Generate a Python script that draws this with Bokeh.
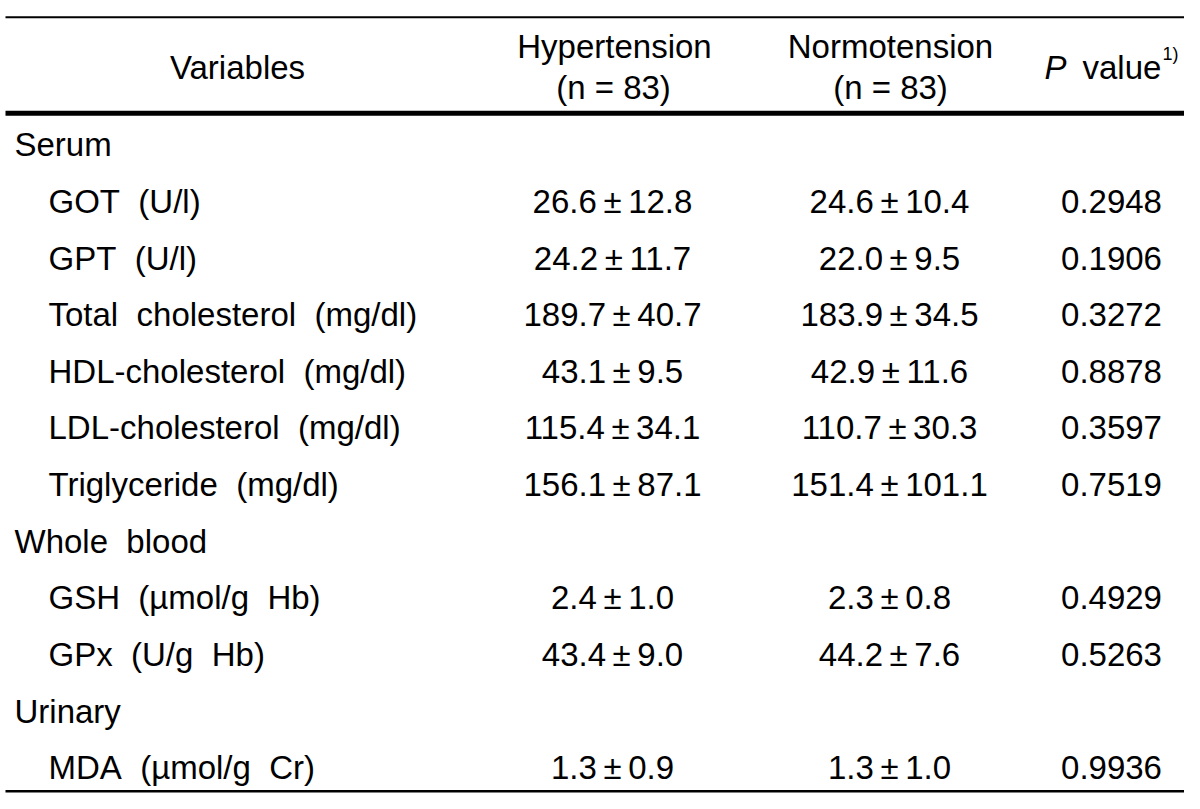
from bokeh.plotting import figure
from bokeh.models import Range1d, ColumnDataSource
from bokeh.core.properties import value
from bokeh.embed import file_html
from bokeh.resources import INLINE

# ---- data ----
labels = ["Serum", "GOT  (U/l)", "GPT  (U/l)", "Total  cholesterol  (mg/dl)",
          "HDL-cholesterol  (mg/dl)", "LDL-cholesterol  (mg/dl)", "Triglyceride  (mg/dl)",
          "Whole  blood", "GSH  (\u00b5mol/g  Hb)", "GPx  (U/g  Hb)",
          "Urinary", "MDA  (\u00b5mol/g  Cr)"]
is_group = [True, False, False, False, False, False, False, True, False, False, True, False]
hyper = ["", "26.6 \u00b1 12.8", "24.2 \u00b1 11.7", "189.7 \u00b1 40.7", "43.1 \u00b1 9.5",
         "115.4 \u00b1 34.1", "156.1 \u00b1 87.1", "", "2.4 \u00b1 1.0", "43.4 \u00b1 9.0", "",
         "1.3 \u00b1 0.9"]
normo = ["", "24.6 \u00b1 10.4", "22.0 \u00b1 9.5", "183.9 \u00b1 34.5", "42.9 \u00b1 11.6",
         "110.7 \u00b1 30.3", "151.4 \u00b1 101.1", "", "2.3 \u00b1 0.8", "44.2 \u00b1 7.6", "",
         "1.3 \u00b1 1.0"]
pvals = ["", "0.2948", "0.1906", "0.3272", "0.8878", "0.3597", "0.7519", "", "0.4929",
         "0.5263", "", "0.9936"]
headers = ["Variables", "Hypertension", "(n = 83)", "Normotension", "(n = 83)"]

def disp(s):
    # keep the wide word gaps and tight gaps around the plus-minus sign when drawn
    return s.replace("  ", "\u00a0\u00a0").replace(" \u00b1 ", "\u2009\u00b1\u2009")

W, H = 1184, 793
FONT = value("Liberation Sans")
FS = "33px"

p = figure(width=W, height=H, output_backend="svg", toolbar_location=None,
           x_range=Range1d(0, W), y_range=Range1d(803.9, -5.1), min_border=0)
p.axis.visible = False
p.grid.visible = False
p.outline_line_color = None
p.background_fill_color = "white"
p.border_fill_color = "white"

# rules
p.segment(x0=[5], y0=[12], x1=[1195], y1=[12], line_color="black", line_width=2)
p.segment(x0=[5], y0=[110], x1=[1195], y1=[110], line_color="black", line_width=5)
p.segment(x0=[5], y0=[801.5], x1=[1195], y1=[801.5], line_color="black", line_width=2.5)

# header
hx = [237, 614, 613, 890, 890]
hy = [63, 42, 84, 42, 84]
p.text(x=hx, y=hy, text=headers, text_font=FONT, text_font_size=FS,
       text_align="center", text_baseline="middle", text_color="black")
p.text(x=[1044], y=[63], text=["P"], text_font=FONT, text_font_size=FS,
       text_font_style="italic", text_align="left", text_baseline="middle")
p.text(x=[1082], y=[63], text=["value"], text_font=FONT, text_font_size=FS,
       text_align="left", text_baseline="middle")
p.text(x=[1162], y=[49], text=["1)"], text_font=FONT, text_font_size="18px",
       text_align="left", text_baseline="middle")

# body
row_y0, row_dy = 142, 57.8
ys = [row_y0 + i * row_dy for i in range(len(labels))]
lx = [14 if g else 48 for g in is_group]
src = ColumnDataSource(dict(x=lx, y=ys, t=[disp(s) for s in labels]))
p.text(x="x", y="y", text="t", source=src, text_font=FONT, text_font_size=FS,
       text_align="left", text_baseline="middle")
p.text(x=[612] * len(ys), y=ys, text=[disp(s) for s in hyper], text_font=FONT,
       text_font_size=FS, text_align="center", text_baseline="middle")
p.text(x=[889] * len(ys), y=ys, text=[disp(s) for s in normo], text_font=FONT,
       text_font_size=FS, text_align="center", text_baseline="middle")
p.text(x=[1111] * len(ys), y=ys, text=pvals, text_font=FONT, text_font_size=FS,
       text_align="center", text_baseline="middle")

open("out.html", "w").write(file_html(p, INLINE))
